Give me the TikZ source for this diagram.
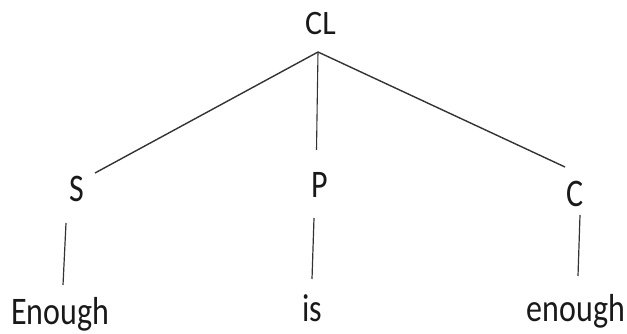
\documentclass[tikz,border=0pt]{standalone}
\usepackage{fontspec}
\setmainfont{Carlito}
\usepackage{graphicx}
\begin{document}
\begin{tikzpicture}[x=1pt,y=-1pt,
  lbl/.style={anchor=base,inner sep=0pt,font=\fontsize{32}{38}\selectfont,text=black!90},
  edge/.style={line width=1.4pt,draw=black!80}]
\useasboundingbox (0,0) rectangle (627,334);
\node[lbl] (CL) at (320.5,35) {\scalebox{1}[1.07]{CL}};
\node[lbl] (S) at (77,202) {\scalebox{1}[1.22]{S}};
\node[lbl] (P) at (320,197) {\scalebox{1}[1.22]{P}};
\node[lbl] (C) at (575,207) {\scalebox{1}[1.22]{C}};
\node[lbl] (W1) at (60,324) {\scalebox{1}[1.22]{Enough}};
\node[lbl] (W2) at (312,321) {\scalebox{1}[1.22]{is}};
\node[lbl] (W3) at (576,321) {\scalebox{1}[1.22]{enough}};
\coordinate (apex) at (318,52);
\coordinate (sTop) at (95,173);
\coordinate (pTop) at (316.5,150);
\coordinate (cTop) at (565,167);
\coordinate (s1) at (66,223); \coordinate (s2) at (63,285);
\coordinate (p1) at (314,218); \coordinate (p2) at (312,279);
\coordinate (c1) at (580,215); \coordinate (c2) at (578,276);
\draw[edge] (apex) -- (sTop);
\draw[edge,line width=1.1pt] (apex) -- (pTop);
\draw[edge] (apex) -- (cTop);
\draw[edge,line width=1.2pt] (s1) -- (s2);
\draw[edge,line width=1.2pt] (p1) -- (p2);
\draw[edge,line width=1.2pt] (c1) -- (c2);
\end{tikzpicture}
\end{document}
